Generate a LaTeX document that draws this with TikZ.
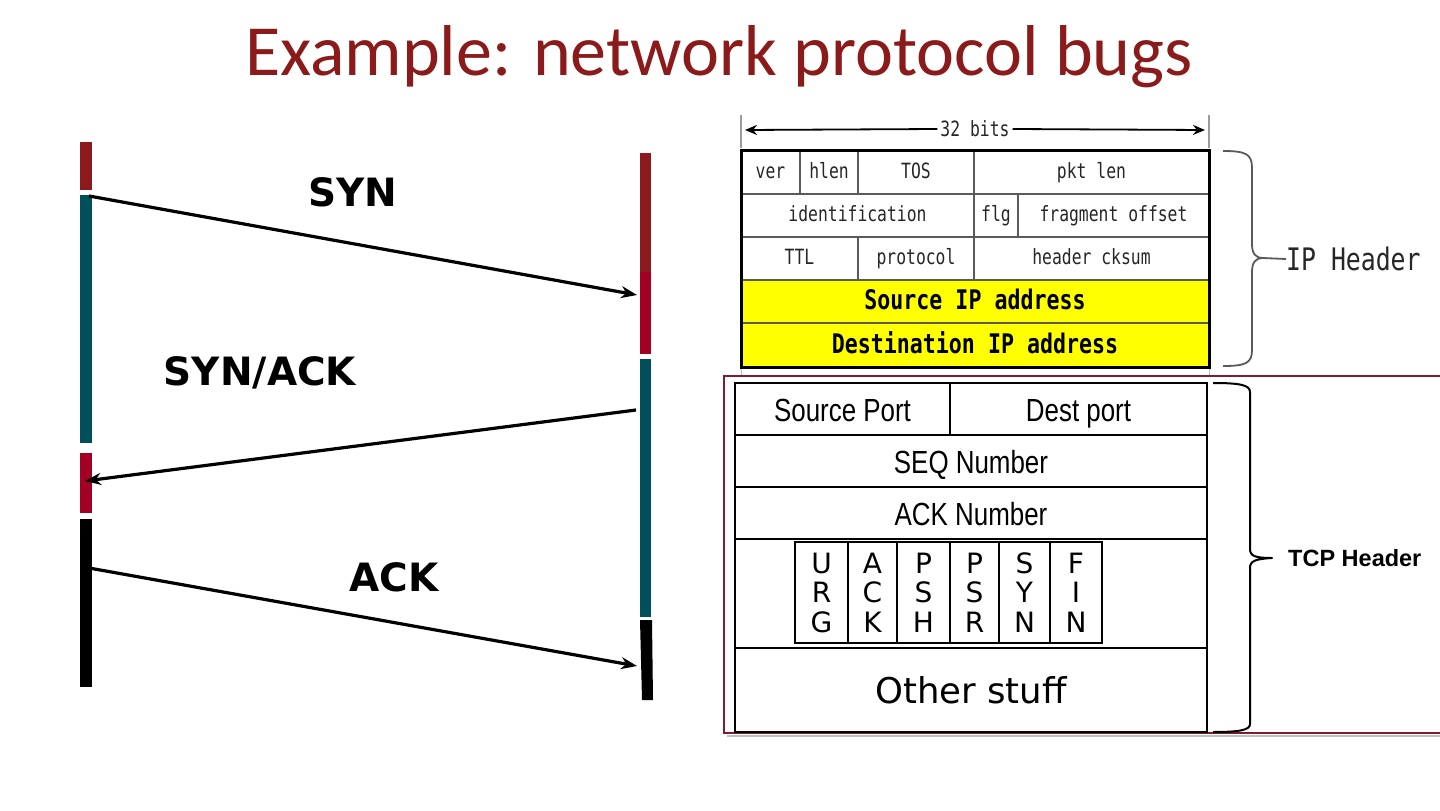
\documentclass[tikz,border=0pt]{standalone}
\usepackage{fontspec}
\usetikzlibrary{arrows.meta}
\setmainfont{DejaVu Sans}
\newfontfamily\titlefont{Carlito}
\newfontfamily\ipmono[FakeStretch=0.78]{DejaVu Sans Mono}
\newfontfamily\ipmonobold[FakeStretch=0.8]{DejaVu Sans Mono}
\newfontfamily\ipmonowide[FakeStretch=0.8]{DejaVu Sans Mono}
\newfontfamily\narrowfont[FakeStretch=0.81]{Liberation Sans}
\newfontfamily\arialfont{Liberation Sans}
\definecolor{titlered}{HTML}{8B1A1A}
\definecolor{barred}{HTML}{8C1A1C}
\definecolor{brightred}{HTML}{A20024}
\definecolor{barteal}{HTML}{004F5B}
\definecolor{ipyellow}{HTML}{FFFF00}
\definecolor{ipgray}{HTML}{5A5A5A}
\definecolor{iptext}{HTML}{262626}
\definecolor{framered}{HTML}{7E1E2C}
\tikzset{
  ipcell/.style={draw=ipgray, line width=1.5pt, inner sep=0pt, font=\ipmono\fontsize{21}{23}\selectfont, text=iptext, text height=15pt, text depth=3pt},
  ipbig/.style={draw=ipgray, line width=1.5pt, inner sep=0pt, fill=ipyellow, font=\ipmonobold\bfseries\fontsize{27}{29}\selectfont, text=black, text height=19pt, text depth=3pt},
  tcpcell/.style={draw=black, line width=2.2pt, inner sep=0pt},
  tcptext/.style={font=\narrowfont\fontsize{32}{34}\selectfont, text height=28pt, text depth=3pt},
  flagcell/.style={draw=black, line width=1.8pt, inner sep=0pt, align=center, font=\fontsize{28}{29.5}\selectfont},
  msg/.style={font=\bfseries\fontsize{39}{42}\selectfont},
  msgarrow/.style={line width=3.2pt, -{Stealth[length=16pt,width=12pt]}},
}
\begin{document}
\begin{tikzpicture}[x=1pt,y=-1pt]
\useasboundingbox (0,0) rectangle (1440,811);
% title
\node[font=\titlefont\fontsize{72}{78}\selectfont, text=titlered] (title) at (719,57) {Example: network protocol bugs};
% timeline bars
\fill[barred] (80,142) rectangle (92,190);
\fill[barteal] (80,195) rectangle (92,443);
\fill[brightred] (80,453) rectangle (92,513);
\fill[black] (80,519) rectangle (92,687);
\fill[barred] (640,153) rectangle (651,272);
\fill[brightred] (640,272) rectangle (651,354);
\fill[barteal] (640,359) rectangle (651,617);
\fill[black] (640,620) -- (652,620) -- (653,700) -- (642,700) -- cycle;
% arrow ends
\coordinate (synA) at (89,196);
\coordinate (synB) at (637,295);
\coordinate (saA) at (636,410);
\coordinate (saB) at (85,481);
\coordinate (ackA) at (89,568);
\coordinate (ackB) at (637,666);
\draw[msgarrow] (synA) -- (synB);
\draw[msgarrow] (saA) -- (saB);
\draw[msgarrow] (ackA) -- (ackB);
\node[msg] (synlbl) at (353,192) {SYN};
\node[msg] (salbl) at (260,373) {SYN/ACK};
\node[msg] (acklbl) at (394,577) {ACK};
% IP header
\draw[ipgray!60, line width=1.2pt] (741,115) -- (741,148);
\draw[ipgray!60, line width=1.2pt] (1209,115) -- (1209,148);
\draw[ipgray!40, line width=1pt] (741,369) -- (741,376);
\draw[ipgray!40, line width=1pt] (1209,369) -- (1209,376);
\node[fill=white, inner sep=3pt, font=\ipmono\fontsize{21}{23}\selectfont, text=iptext] (bits) at (975,129) {32 bits};
\coordinate (bitsL) at (745,130);
\coordinate (bitsR) at (1205,130);
\draw[line width=1.8pt, -{Stealth[length=12pt,width=10pt]}] (bits.west) -- (bitsL);
\draw[line width=1.8pt, -{Stealth[length=12pt,width=10pt]}] (bits.east) -- (bitsR);
\node[ipcell, minimum width=59pt, minimum height=44pt] (ver) at (770.5,172) {ver};
\node[ipcell, minimum width=58pt, minimum height=44pt] (hlen) at (829,172) {hlen};
\node[ipcell, minimum width=116pt, minimum height=44pt] (tos) at (916,172) {TOS};
\node[ipcell, minimum width=235pt, minimum height=44pt] (pktlen) at (1091.5,172) {pkt len};
\node[ipcell, minimum width=233pt, minimum height=43pt] (ident) at (857.5,215.5) {identification};
\node[ipcell, minimum width=44pt, minimum height=43pt] (flg) at (996,215.5) {flg};
\node[ipcell, minimum width=191pt, minimum height=43pt] (frag) at (1113.5,215.5) {fragment offset};
\node[ipcell, minimum width=117pt, minimum height=43pt] (ttl) at (799.5,258.5) {TTL};
\node[ipcell, minimum width=116pt, minimum height=43pt] (proto) at (916,258.5) {protocol};
\node[ipcell, minimum width=235pt, minimum height=43pt] (cksum) at (1091.5,258.5) {header cksum};
\node[ipbig, minimum width=468pt, minimum height=43pt] (srcip) at (975,301.5) {Source IP address};
\node[ipbig, minimum width=468pt, minimum height=44pt] (dstip) at (975,345) {Destination IP address};
\draw[black, line width=3pt] (741,150) rectangle (1209,367);
% IP brace
\draw[ipgray, line width=1.8pt, line join=round]
  (1223,151) .. controls (1246,151) and (1252,154) .. (1252,168) -- (1252,244)
  .. controls (1252,253) and (1255,258) .. (1263,258)
  .. controls (1255,258) and (1252,263) .. (1252,272) -- (1252,350)
  .. controls (1252,363) and (1246,366) .. (1223,366);
\node[font=\ipmonowide\fontsize{31}{33}\selectfont, text=iptext, anchor=west, inner sep=0pt] (iphdr) at (1286,259) {IP Header};
\coordinate (ipbTip) at (1263,258);
\draw[ipgray, line width=1.8pt] (ipbTip) -- (iphdr.west);
% TCP header frame
\draw[black!25, line width=2pt] (727,736) -- (1440,736);
\draw[framered, line width=1.2pt] (1440,376) -- (724,376) -- (724,733) -- (1440,733);
\node[tcpcell, tcptext, minimum width=215pt, minimum height=52pt] (sport) at (842.5,409) {Source Port};
\node[tcpcell, tcptext, minimum width=257pt, minimum height=52pt] (dport) at (1078.5,409) {Dest port};
\node[tcpcell, tcptext, minimum width=472pt, minimum height=52pt] (seq) at (971,461) {SEQ Number};
\node[tcpcell, tcptext, minimum width=472pt, minimum height=52pt] (ack) at (971,513) {ACK Number};
\node[tcpcell, minimum width=472pt, minimum height=109pt] (flagrow) at (971,593.5) {};
\node[tcpcell, minimum width=472pt, minimum height=84pt, font=\fontsize{35.5}{38}\selectfont] (other) at (971,690) {Other stuff};
\node[flagcell, minimum width=53pt, minimum height=101pt] (urg) at (821.5,592.5) {U\\R\\G};
\node[flagcell, minimum width=49pt, minimum height=101pt] (fack) at (872.5,592.5) {A\\C\\K};
\node[flagcell, minimum width=53pt, minimum height=101pt] (psh) at (923.5,592.5) {P\\S\\H};
\node[flagcell, minimum width=49pt, minimum height=101pt] (psr) at (974.5,592.5) {P\\S\\R};
\node[flagcell, minimum width=51pt, minimum height=101pt] (fsyn) at (1024.5,592.5) {S\\Y\\N};
\node[flagcell, minimum width=52pt, minimum height=101pt] (fin) at (1076,592.5) {F\\I\\N};
% TCP brace
\draw[black, line width=2pt, line join=round]
  (1213,383) .. controls (1240,383) and (1250,385) .. (1250,392) -- (1250,549)
  .. controls (1250,556) and (1255,558) .. (1272,558)
  .. controls (1255,559) and (1250,561) .. (1250,568) -- (1250,724)
  .. controls (1250,730) and (1240,732) .. (1213,732);
\node[font=\arialfont\bfseries\fontsize{23.5}{26}\selectfont, anchor=west, inner sep=0pt] (tcphdr) at (1288,558) {TCP Header};
\end{tikzpicture}
\end{document}
